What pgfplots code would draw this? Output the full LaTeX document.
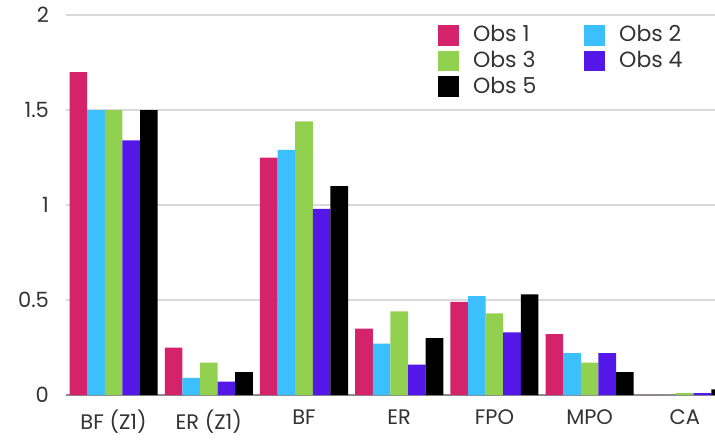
\documentclass[border=0pt]{standalone}
\usepackage{pgfplots}
\pgfplotsset{compat=1.18}
\usepackage{fontspec}
\setmainfont{Poppins}
\definecolor{obsA}{HTML}{D4236B}
\definecolor{obsB}{HTML}{3BBFFD}
\definecolor{obsC}{HTML}{92D050}
\definecolor{obsD}{HTML}{5317E8}
\definecolor{obsE}{HTML}{000000}
\definecolor{gridc}{HTML}{D9D9D9}
\definecolor{axc}{HTML}{8C8C8C}
\definecolor{txt}{HTML}{333333}
\begin{document}
\begin{tikzpicture}
\useasboundingbox (0,0) rectangle (357.5pt,220pt);
\begin{axis}[
  at={(33pt,22.5pt)}, anchor=south west,
  scale only axis, width=324.5pt, height=190pt,
  xmin=-0.5, xmax=6.317, ymin=0, ymax=2,
  ytick={0,0.5,1,1.5,2},
  xtick={0,1,2,3,4,5,6},
  xticklabels={BF (Z1),ER (Z1),BF,ER,FPO,MPO,CA},
  ymajorgrids, grid style={gridc, line width=0.6pt},
  axis x line*=bottom,
  axis y line*=left,
  y axis line style={draw=none},
  x axis line style={axc, line width=0.8pt, -},
  major tick length=0pt,
  tick style={draw=none},
  ticklabel style={font=\fontsize{10.5}{12}\selectfont, text=txt},
  /pgf/number format/assume math mode=true,
  yticklabel style={anchor=east, xshift=-5pt},
  xticklabel style={yshift=-4pt},
  ybar, bar width=0.185,
  clip=true,
  legend columns=2,
  legend style={draw=none, fill=none, at={(rel axis cs:0.573,0.984)}, anchor=north west,
    inner sep=0pt, font=\fontsize{11}{12}\selectfont, text=txt,
    row sep=-0.75pt,
    /tikz/every odd column/.append style={column sep=5pt},
    /tikz/every even column/.append style={column sep=22pt}},
  legend image code/.code={\fill[#1] (0pt,-5.2pt) rectangle (10.4pt,5.2pt);},
  legend cell align=left,
]
\addplot[fill=obsA, draw=none, bar shift=-0.37] coordinates {(0,1.70) (1,0.25) (2,1.25) (3,0.35) (4,0.49) (5,0.32) (6,0)};
\addplot[fill=obsB, draw=none, bar shift=-0.185] coordinates {(0,1.50) (1,0.09) (2,1.29) (3,0.27) (4,0.52) (5,0.22) (6,0)};
\addplot[fill=obsC, draw=none, bar shift=0] coordinates {(0,1.50) (1,0.17) (2,1.44) (3,0.44) (4,0.43) (5,0.17) (6,0.01)};
\addplot[fill=obsD, draw=none, bar shift=0.185] coordinates {(0,1.34) (1,0.07) (2,0.98) (3,0.16) (4,0.33) (5,0.22) (6,0.01)};
\addplot[fill=obsE, draw=none, bar shift=0.37] coordinates {(0,1.50) (1,0.12) (2,1.10) (3,0.30) (4,0.53) (5,0.12) (6,0.03)};
\legend{Obs 1,Obs 2,Obs 3,Obs 4,Obs 5}
\end{axis}
\end{tikzpicture}
\end{document}
